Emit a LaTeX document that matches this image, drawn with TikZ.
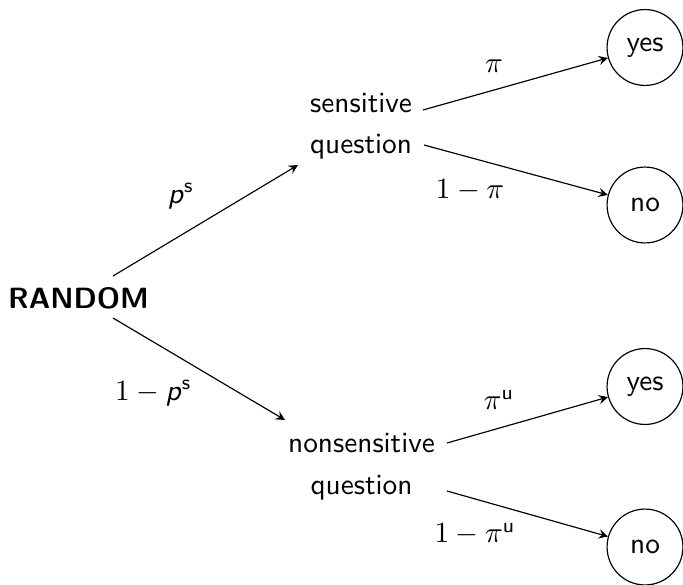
\RequirePackage{fix-cm}
\documentclass[tikz,border=0pt]{standalone}
\usetikzlibrary{calc}
\DeclareMathAlphabet{\mathsfit}{OT1}{cmss}{m}{sl}
\begin{document}
\begin{tikzpicture}[x=0.3413pt,y=-0.3413pt,
  every node/.style={font=\fontsize{10}{14.2}\selectfont\sffamily},
  qbox/.style={align=center, inner sep=0pt},
  leaf/.style={draw, circle, minimum size=25.9pt, inner sep=0pt},
  lbl/.style={inner sep=0pt},
  conn/.style={-stealth, line width=0.4pt}]
\useasboundingbox (0,0) rectangle (683,584);
% nodes
\node[anchor=base, font=\fontsize{10}{12}\selectfont\sffamily\bfseries] (R) at (78.5,308) {RANDOM};
\node[qbox] (sq) at (361,126.4) {sensitive\\question};
\node[qbox] (nq) at (361.5,466.8) {nonsensitive\\question};
\node[leaf] (y1) at (645,47.5) {yes};
\node[leaf] (n1) at (645,205) {no};
\node[leaf] (y2) at (645,386.5) {yes};
\node[leaf] (n2) at (645,547) {no};
% labels
\node[lbl] (lps) at (181,196) {$\mathsfit{p}^{\mathsf{s}}$};
\node[lbl] (lqs) at (153.5,393) {$1-\mathsfit{p}^{\mathsf{s}}$};
\node[lbl] (lpi) at (494,66.5) {$\pi$};
\node[lbl] (lqi) at (470,190) {$1-\pi$};
\node[lbl] (lpu) at (499,400) {$\pi^{\mathsf{u}}$};
\node[lbl] (lqu) at (475,534) {$1-\pi^{\mathsf{u}}$};
% connectors
\draw[conn] ($(R.base)+(34.5,-32)$) -- ($(sq.center)+(-63,38.6)$);
\draw[conn] ($(R.base)+(34.5,10)$) -- ($(nq.center)+(-76.5,-46.8)$);
\draw[conn] ($(sq.center)+(62,-16.4)$) -- (y1);
\draw[conn] ($(sq.center)+(63,18.6)$) -- (n1);
\draw[conn] ($(nq.center)+(85.5,-23.8)$) -- (y2);
\draw[conn] ($(nq.center)+(85.5,24.2)$) -- (n2);
\end{tikzpicture}
\end{document}
